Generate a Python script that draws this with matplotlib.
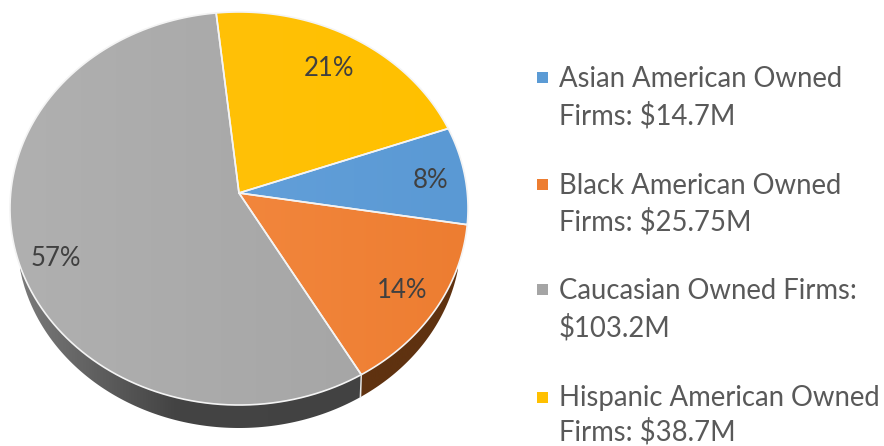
import matplotlib
matplotlib.use('Agg')
import matplotlib.pyplot as plt
from matplotlib.colors import LinearSegmentedColormap
from matplotlib.patches import Polygon, Rectangle
import numpy as np

plt.rcParams['font.family'] = ['Lato', 'DejaVu Sans']

legend_lines = [['Asian American Owned', 'Firms: $14.7M'],
                ['Black American Owned', 'Firms: $25.75M'],
                ['Caucasian Owned Firms:', '$103.2M'],
                ['Hispanic American Owned', 'Firms: $38.7M']]
values = [14.7, 25.75, 103.2, 38.7]
pct_labels = ['8%', '14%', '57%', '21%']
colors = ['#5b9bd5', '#ed7d31', '#a5a5a5', '#ffc000']
# left and right ends of the soft horizontal shading on each slice
face_shades = [('#629fd9', '#5a99d4'), ('#f2863c', '#ed7d31'),
               ('#b0b0b0', '#a6a6a6'), ('#ffc107', '#ffc000')]

W, H = 884, 446
fig = plt.figure(figsize=(W / 100, H / 100), dpi=100)
ax = fig.add_axes([0, 0, 1, 1])

# pie is a tilted disc, so the apex sits above the middle of the ellipse
cx, cy = 239, 193
a, b, k = 228.3, 195.3, 0.0789
start = 19.8
total = sum(values)


def rim(a0, a1, n=120):
    t = np.radians(np.linspace(a0, a1, n))
    w = 1 + k * np.sin(t)
    return cx + a * np.cos(t) / w, cy - b * np.sin(t) / w


def shaded(poly_xy, shades, z):
    cmap = LinearSegmentedColormap.from_list('s', shades)
    patch = Polygon(poly_xy, closed=True, fc='none', ec='none', transform=ax.transData)
    ax.add_patch(patch)
    x0, x1 = poly_xy[:, 0].min(), poly_xy[:, 0].max()
    im = ax.imshow(np.linspace(0, 1, 256).reshape(1, -1), extent=(x0, x1, H, 0), cmap=cmap,
                   aspect='auto', zorder=z, interpolation='bilinear')
    im.set_clip_path(patch)


angs = [start]
for v in values:
    angs.append(angs[-1] - v / total * 360)

# side wall: lower rim is slightly narrower than the top one
lx, ly, lrx, lry = 239, 238, 222, 190


def wall(x_from, x_to, n=150):
    xs = np.linspace(x_from, x_to, n)
    top = 208 + 197 * np.sqrt(np.clip(1 - ((xs - 239) / 229) ** 2, 0, 1))
    low = ly + lry * np.sqrt(np.clip(1 - ((xs - lx) / lrx) ** 2, 0, 1))
    return np.r_[np.c_[xs, top], np.c_[xs, low][::-1]]


seam_x, seam_y = rim(angs[2], angs[2], 1)
seam_x, seam_y = seam_x[0], seam_y[0]
shaded(wall(20, seam_x), [(0, '#7a7a7a'), (0.45, '#444444'), (1, '#424242')], 1)
shaded(wall(seam_x, 458), ['#5f3210', '#5f3210'], 1)

for i, v in enumerate(values):
    x, y = rim(angs[i], angs[i + 1])
    xy = np.c_[np.r_[cx, x], np.r_[cy, y]]
    shaded(xy, list(face_shades[i]), 2)
    ax.add_patch(Polygon(xy, closed=True, fc='none', ec='#f4f4f4', lw=1.2, zorder=3))
ax.plot([seam_x, seam_x - 1], [seam_y, 397], color='#e8e8e8', lw=1, zorder=3)

label_pos = [(431, 181), (402, 290), (56, 258), (329, 68)]
for s, (px, py) in zip(pct_labels, label_pos):
    ax.text(px, py, s, fontsize=18.5, color='#404040', ha='center', va='center', zorder=4)

square_y = [72, 179, 284, 392]
text_y = [[79, 116], [186, 222], [291, 328], [398, 432]]
for c, lines, sy, ty in zip(colors, legend_lines, square_y, text_y):
    ax.add_patch(Rectangle((537, sy), 11, 11, color=c, lw=0))
    for s, tpos in zip(lines, ty):
        ax.text(559, tpos, s, fontsize=19.8, color='#595959', ha='left', va='center')

ax.set_xlim(0, W)
ax.set_ylim(H, 0)
ax.axis('off')

fig.savefig('out.png', dpi=100)
